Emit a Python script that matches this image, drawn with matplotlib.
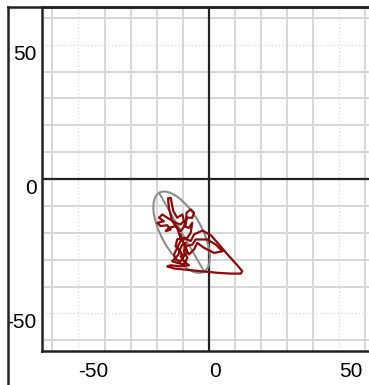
import numpy as np
import matplotlib.pyplot as plt
from matplotlib.patches import Ellipse
from matplotlib.lines import Line2D

plt.rcParams['font.family'] = ['Liberation Sans', 'DejaVu Sans']

# centre-of-pressure trace (mm)
cop_x = [-10.8, -12.1, -14.0, -15.3, -15.6, -14.6, -13.6, -12.1, -10.1, -9.5, -10.8,
         -12.7, -15.9, -17.8, -19.1, -17.2, -19.7, -18.5, -15.9, -14.6, -16.5, -15.3,
         -12.7, -10.8, -8.8, -8.5, -6.9, -5.6, -6.3, -8.2, -9.5, -7.6, -6.3, -6.9,
         -8.2, -10.8, -12.1, -13.3, -12.7, -10.8, -9.5, -11.4, -10.1, -8.8, -9.5,
         -8.2, -9.5, -12.1, -14.0, -12.1, -10.8, -12.7, -12.1, -9.5, -6.9, -5.6,
         -2.4, 0.8, 4.0, 7.8, 11.0, 12.9, 12.3, 8.5, 3.3, -3.1, -8.2, -13.3, -15.9,
         -14.6, -10.8, -7.6, -9.5, -10.8, -8.2, -8.8, -6.3, -5.0, -0.5, 2.7, 5.3,
         2.1, -1.8, -4.4, -5.6, -7.6, -8.8, -10.1, -10.8]
cop_y = [-21.9, -18.2, -15.7, -10.7, -7.2, -7.0, -11.9, -14.4, -13.2, -15.7, -16.9,
         -16.3, -14.4, -13.2, -14.4, -15.7, -16.3, -17.5, -17.2, -18.8, -19.4, -18.2,
         -17.5, -19.4, -16.9, -12.6, -11.3, -12.6, -14.4, -14.4, -17.5, -18.2, -16.3,
         -20.0, -21.9, -23.1, -25.6, -28.1, -30.0, -30.6, -28.7, -26.9, -24.4, -23.8,
         -26.9, -29.4, -31.8, -31.2, -30.6, -28.7, -26.9, -25.0, -22.5, -21.9, -23.1,
         -20.6, -19.2, -20.9, -24.4, -28.7, -32.1, -34.3, -35.2, -35.2, -34.9, -34.3,
         -33.8, -33.3, -32.5, -32.1, -32.5, -32.1, -30.6, -28.7, -27.5, -25.0, -24.4,
         -22.5, -22.5, -24.4, -26.9, -27.5, -25.6, -23.8, -26.2, -28.1, -26.2, -22.5,
         -20.6]

# 95% confidence ellipse
ell_center = (-10.4, -19.8)
ell_width = 34.0
ell_height = 15.2
ell_angle = 120.6

fig = plt.figure(figsize=(3.69, 3.85), dpi=100)
ax = fig.add_axes([0.1138, 0.0883, 0.9035, 0.8935])
ax.set_xlim(-64, 64)
ax.set_ylim(-64, 64)

grid = np.arange(-60, 61, 10)
ax.set_xticks(grid, minor=True)
ax.set_yticks(grid, minor=True)
ax.set_xticks([-50, 0, 50])
ax.set_yticks([-50, 0, 50])
ax.set_xticklabels(['-50', '0', '50'])
ax.set_yticklabels(['-50', '0', '50'])
ax.grid(which='minor', color='#d6d6d6', lw=1.4)
ax.grid(which='major', color='#dcdcdc', lw=1.0, ls=(0, (1, 1.5)))
ax.set_axisbelow(True)
ax.tick_params(which='both', length=0, labelsize=15)
ax.tick_params(axis='x', pad=8)
ax.tick_params(axis='y', pad=4)
for t in ax.get_xticklabels():
    t.set_ha('left')
for t in ax.get_yticklabels():
    t.set_va('top')

for side in ['left', 'bottom', 'top']:
    ax.spines[side].set_color('#222222')
    ax.spines[side].set_linewidth(1.8)
ax.spines['right'].set_visible(False)

ax.axhline(0, color='#222222', lw=1.6, zorder=1.5)
ax.axvline(0, color='#222222', lw=1.6, zorder=1.5)

ell = Ellipse(ell_center, ell_width, ell_height, angle=ell_angle,
              fill=False, ec='#8c8c8c', lw=1.5, zorder=2)
ax.add_patch(ell)
a = np.deg2rad(ell_angle)
dx = ell_width / 2 * np.cos(a)
dy = ell_width / 2 * np.sin(a)
ax.plot([ell_center[0] - dx, ell_center[0] + dx],
        [ell_center[1] - dy, ell_center[1] + dy], color='#8c8c8c', lw=1.4, zorder=2)

ax.plot(cop_x, cop_y, color='#8b0a0a', lw=1.6, zorder=3,
        solid_joinstyle='round', solid_capstyle='round')

# outer frame
fig.add_artist(Line2D([0.0217, 0.0217], [0.0, 0.9818], color='#222222', lw=1.8))
fig.add_artist(Line2D([0.0217, 1.0], [0.9818, 0.9818], color='#222222', lw=1.8))

fig.savefig('out.png', dpi=100)
